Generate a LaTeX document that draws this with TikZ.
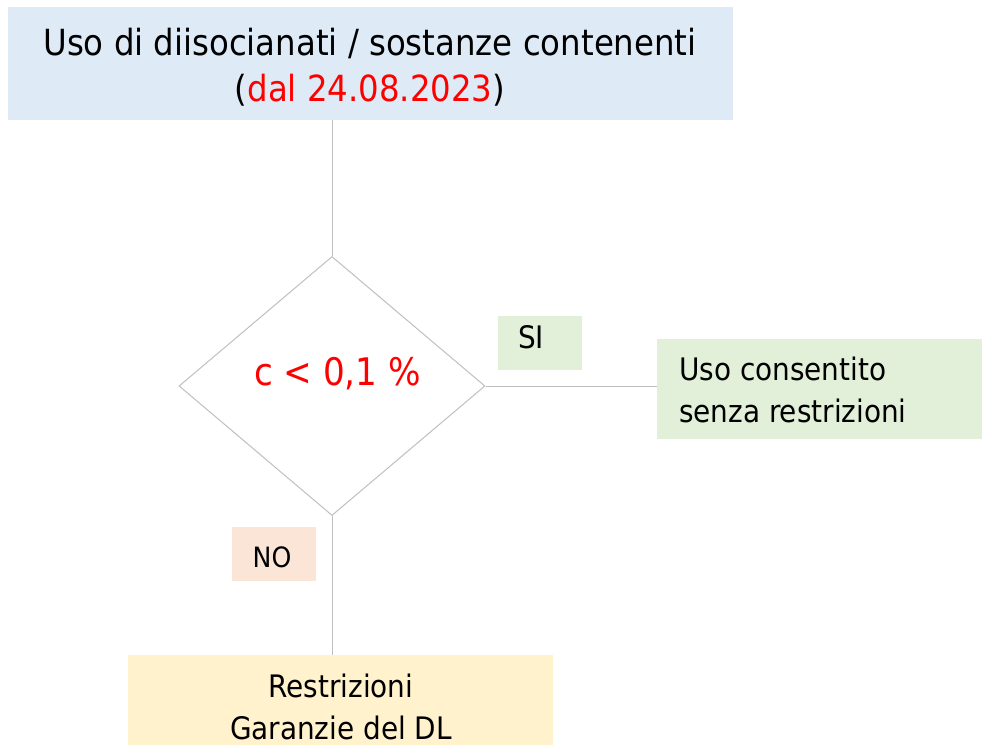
\documentclass[tikz,border=0pt]{standalone}
\usepackage{fontspec}
\IfFontExistsTF{DejaVu Sans Condensed}{\setmainfont{DejaVu Sans Condensed}}{\setmainfont{DejaVu Sans}[FakeStretch=0.9]}
\usetikzlibrary{shapes.geometric}
\definecolor{boxblue}{RGB}{222,235,247}
\definecolor{boxgreen}{RGB}{226,240,217}
\definecolor{boxpeach}{RGB}{251,229,214}
\definecolor{boxyellow}{RGB}{255,242,204}
\definecolor{linegray}{RGB}{191,191,191}
\definecolor{pptred}{RGB}{255,0,0}
\begin{document}
\begin{tikzpicture}[x=1pt,y=-1pt,
  box/.style={rectangle, inner sep=0pt, draw=none},
  conn/.style={draw=linegray, line width=1pt},
  txt/.style={inner sep=0pt, anchor=base, align=center},
  bigfont/.style={font=\fontsize{36}{46}\selectfont},
  midfont/.style={font=\fontsize{31}{42}\selectfont},
  smallfont/.style={font=\fontsize{28}{34}\selectfont}]
\useasboundingbox (0,0) rectangle (982,745);
% boxes
\node[box, fill=boxblue, minimum width=725pt, minimum height=113pt] (top) at (370.5,63.5) {};
\node[box, fill=boxgreen, minimum width=84pt, minimum height=54pt] (si) at (540,343) {};
\node[box, fill=boxgreen, minimum width=325pt, minimum height=100pt] (ok) at (819.5,389) {};
\node[box, fill=boxpeach, minimum width=84pt, minimum height=54pt] (no) at (274,554) {};
\node[box, fill=boxyellow, minimum width=425pt, minimum height=90pt] (bot) at (340.5,700) {};
\node[diamond, draw=linegray, line width=1pt, minimum width=306pt, minimum height=259pt, inner sep=0pt] (dia) at (332,386) {};
% connectors
\draw[conn] (top.south -| dia.north) -- (dia.north);
\draw[conn] (dia.east) -- (dia.east -| ok.west);
\draw[conn] (dia.south) -- (dia.south |- bot.north);
% texts (base anchor = baseline of the last line)
\node[txt, bigfont] (toptxt) at (370,101) {Uso di diisocianati / sostanze contenenti\\(\textcolor{pptred}{dal 24.08.2023})};
\node[txt, text=pptred, font=\fontsize{38}{44}\selectfont] (cond) at (337.5,385) {c < 0,1 \%};
\node[txt, font=\fontsize{31}{34}\selectfont] (sitxt) at (531,348) {SI};
\node[txt, smallfont] (notxt) at (272,567) {NO};
\node[txt, midfont, anchor=base west, align=left] (oktxt) at (679,422) {Uso consentito\\senza restrizioni};
\node[txt, midfont] (bottxt) at (341,739) {Restrizioni\\Garanzie del DL};
\end{tikzpicture}
\end{document}
